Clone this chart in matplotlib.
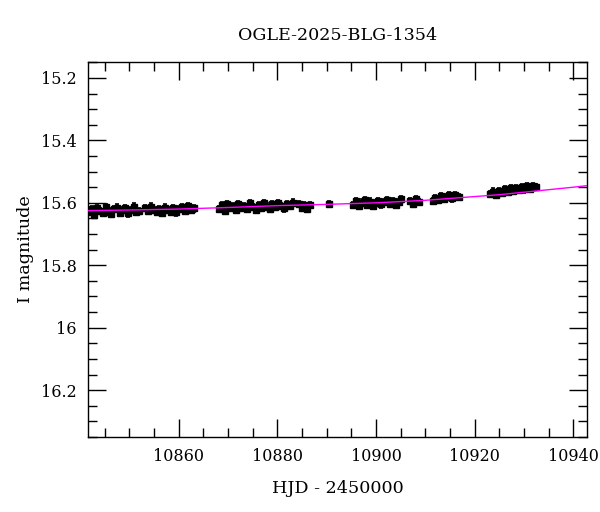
import matplotlib
matplotlib.use("Agg")
import matplotlib.pyplot as plt
from matplotlib.ticker import MultipleLocator, FixedLocator, FixedFormatter

title = "OGLE-2025-BLG-1354"
xlabel = "HJD - 2450000"
ylabel = "I magnitude"

# observations (HJD - 2450000, I mag)
hjd = [
    10841.8, 10842.4, 10842.9, 10843.5, 10844.1, 10844.6, 10845.2, 10845.8, 10846.3, 10846.9,
    10847.5, 10848.0, 10848.6, 10849.2, 10849.7, 10850.3, 10850.9, 10851.4, 10852.0,
    10853.2, 10853.8, 10854.4, 10854.9, 10855.5, 10856.1, 10856.7, 10857.2, 10857.8, 10858.4,
    10858.9, 10859.5, 10860.1, 10860.7, 10861.2, 10861.8, 10862.4, 10863.0,
    10868.1, 10868.7, 10869.3, 10869.8, 10870.4, 10871.0, 10871.6, 10872.1, 10872.7, 10873.3,
    10873.9, 10874.4, 10875.0, 10875.6, 10876.2, 10876.7, 10877.3, 10877.9, 10878.5, 10879.0,
    10879.6, 10880.2, 10880.8, 10881.3, 10881.9, 10882.5, 10883.1,
    10884.3, 10884.9, 10885.5, 10886.1, 10886.7,
    10890.5,
    10895.4, 10895.9, 10896.5, 10897.1, 10897.7, 10898.2, 10898.8, 10899.4, 10900.0, 10900.5,
    10901.1, 10901.7, 10902.3, 10902.8, 10903.4, 10904.0, 10904.6, 10905.1,
    10907.0, 10907.6, 10908.2, 10908.7,
    10911.5, 10912.0, 10912.6, 10913.2, 10913.8, 10914.3, 10914.9, 10915.5, 10916.1, 10916.8,
    10923.2, 10923.8, 10924.4, 10925.0, 10925.5, 10926.1, 10926.7, 10927.3, 10927.8, 10928.4,
    10929.0, 10929.6, 10930.1, 10930.7, 10931.3, 10931.9, 10932.5,
]
mag = [
    15.630, 15.620, 15.639, 15.616, 15.627, 15.633, 15.614, 15.628, 15.637, 15.621,
    15.615, 15.632, 15.624, 15.618, 15.634, 15.622, 15.612, 15.628, 15.626,
    15.617, 15.625, 15.612, 15.623, 15.630, 15.619, 15.633, 15.615, 15.624, 15.629,
    15.618, 15.631, 15.621, 15.613, 15.627, 15.609, 15.623, 15.618,
    15.620, 15.608, 15.625, 15.605, 15.617, 15.611, 15.623, 15.603, 15.616, 15.609,
    15.621, 15.601, 15.613, 15.622, 15.606, 15.615, 15.602, 15.612, 15.619, 15.604,
    15.614, 15.600, 15.611, 15.618, 15.603, 15.609, 15.599,
    15.603, 15.616, 15.608, 15.620, 15.606,
    15.603,
    15.606, 15.595, 15.610, 15.599, 15.591, 15.607, 15.596, 15.611, 15.601, 15.593,
    15.605, 15.598, 15.590, 15.603, 15.595, 15.607, 15.597, 15.589,
    15.593, 15.603, 15.589, 15.598,
    15.594, 15.584, 15.590, 15.579, 15.588, 15.581, 15.576, 15.586, 15.575, 15.581,
    15.572, 15.564, 15.575, 15.561, 15.568, 15.557, 15.566, 15.554, 15.563, 15.552,
    15.560, 15.549, 15.557, 15.546, 15.555, 15.545, 15.550,
]
err = [0.010] * len(hjd)

# model curve
model_hjd = [10841.6, 10850.0, 10860.0, 10870.0, 10880.0, 10890.0, 10900.0, 10910.0,
             10920.0, 10925.0, 10930.0, 10935.0, 10940.0, 10942.8]
model_mag = [15.625, 15.623, 15.620, 15.615, 15.609, 15.605, 15.600, 15.592,
             15.580, 15.574, 15.566, 15.558, 15.550, 15.545]

xticks = [10860, 10880, 10900, 10920, 10940]
yticks = [15.2, 15.4, 15.6, 15.8, 16.0, 16.2]
ytick_labels = ["15.2", "15.4", "15.6", "15.8", "16", "16.2"]

plt.rcParams['font.family'] = ['DejaVu Serif']
fig = plt.figure(figsize=(6.0, 5.12), dpi=100)
ax = fig.add_axes([88/600, 1-437/512, (587-88)/600, (437-62)/512])

ax.errorbar(hjd, mag, yerr=err, fmt='s', color='black', ms=4.2, elinewidth=1.4,
            capsize=1.5, capthick=1.2, zorder=2)
ax.plot(model_hjd, model_mag, color='#ff00ff', lw=1.0, zorder=3)

ax.set_xlim(10841.6, 10942.8)
ax.set_ylim(16.35, 15.149)

ax.xaxis.set_major_locator(FixedLocator(xticks))
ax.xaxis.set_minor_locator(MultipleLocator(5))
ax.yaxis.set_major_locator(FixedLocator(yticks))
ax.yaxis.set_major_formatter(FixedFormatter(ytick_labels))
ax.yaxis.set_minor_locator(MultipleLocator(0.05))

ax.tick_params(which='both', direction='in', top=True, right=True, labelsize=11.5, color='black')
ax.tick_params(which='major', length=13, width=1.0, pad=8)
ax.tick_params(which='minor', length=6.5, width=1.0)
for s in ax.spines.values():
    s.set_linewidth(1.0)

ax.set_title(title, fontsize=12.6, pad=16)
ax.set_xlabel(xlabel, fontsize=12.6, labelpad=11)
ax.set_ylabel(ylabel, fontsize=12.6, labelpad=5)

fig.savefig("out.png", dpi=100)
